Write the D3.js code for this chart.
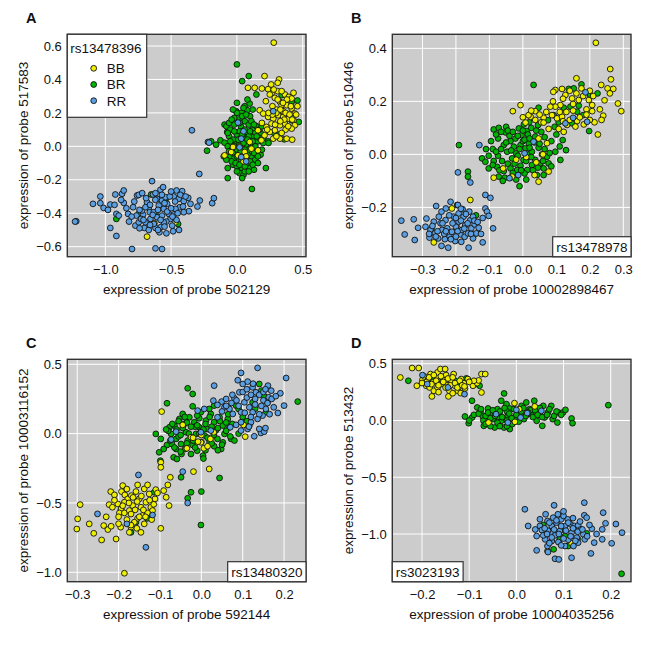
<!DOCTYPE html>
<html>
<head>
<meta charset="utf-8">
<script src="https://cdn.jsdelivr.net/npm/d3@7"></script>
<style>
  body { margin: 0; background: #fff; }
  text { font-family: "Liberation Sans", Arial, sans-serif; fill: #111; }
</style>
</head>
<body>
<div class="viz"></div>
<script>
// ---- panel A : probe 502129 vs 517583, marker rs13478396
const aXTicks = [-1.0, -0.5, 0.0, 0.5]
const aYTicks = [-0.6, -0.4, -0.2, 0.0, 0.2, 0.4, 0.6]
const aBB = [[0.28,0.62],[0.21,0.42],[0.32,0.40],[0.31,0.38],[0.084,0.35],[0.135,0.35],[0.19,0.346],[0.237,0.342],[0.263,0.316],[0.309,0.33],[0.365,0.31],[0.395,0.296],[0.416,0.286],[0.288,0.29],[0.327,0.266],[0.34,0.246],[0.378,0.246],[0.416,0.226],[0.44,0.196],[0.173,0.216],[0.2,0.196],[0.237,0.176],[0.276,0.166],[0.314,0.186],[0.352,0.176],[0.39,0.166],[0.43,0.156],[0.44,0.126],[0.416,0.106],[0.365,0.136],[0.327,0.126],[0.288,0.096],[0.25,0.086],[0.21,0.066],[0.276,0.046],[0.327,0.046],[0.378,0.046],[0.263,0.136],[0.224,0.116],[0.16,0.096],[0.186,0.036],[0.11,-0.014],[0.16,-0.024],[-0.043,-0.034],[-0.03,-0.004],[-0.094,-0.054],[0.008,-0.054],[0.059,-0.034],[0.097,0.026],[0.37,0.10],[0.42,0.04],[0.46,0.24],[0.45,0.19],[0.22,0.27],[0.25,0.31],[0.30,0.22],[0.35,0.21],[0.05,-0.09],[-0.627,-0.46],[-0.467,-0.454],[-0.683,-0.54],
  [0.28,0.34],[0.34,0.33],[0.38,0.28],[0.31,0.28],[0.27,0.24],[0.3,0.2],[0.33,0.22],[0.37,0.2],[0.4,0.19],[0.42,0.16],[0.36,0.16],[0.33,0.15],[0.29,0.13],[0.27,0.19],[0.24,0.2],[0.35,0.26],[0.41,0.24],[0.39,0.12],[0.34,0.08],[0.3,0.06],[0.23,0.1],[0.19,0.14],[0.43,0.32],[0.26,0.37],[0.02,0.0],[0.07,-0.06]]
const aBR = [[0.0,0.49],[0.09,0.42],[0.04,0.39],[0.148,0.31],[0.059,0.24],[0.097,0.256],[-0.005,0.21],[0.038,0.202],[0.079,0.216],[0.34,0.306],[0.416,0.266],[0.46,0.274],[0.47,0.146],[0.416,0.156],[0.35,0.156],[0.32,0.13],[0.283,0.08],[0.32,0.07],[0.36,0.042],[0.237,0.03],[0.18,0.074],[-0.094,0.13],[-0.074,0.086],[-0.158,0.01],[-0.125,0.036],[-0.227,-0.026],[-0.196,0.03],[-0.094,0.022],
  [-0.08,0.12],[-0.05,0.10],[-0.02,0.13],[0.01,0.16],[0.03,0.12],[0.06,0.15],[0.09,0.13],[0.12,0.10],[0.15,0.12],[0.18,0.08],[-0.06,0.06],[-0.03,0.04],[0.0,0.07],[0.02,0.09],[0.05,0.05],[0.08,0.08],[0.10,0.04],[0.13,0.06],[0.16,0.03],[0.20,0.02],[-0.07,0.0],[-0.04,-0.02],[-0.01,0.01],[0.02,0.02],[0.04,-0.01],[0.07,0.01],[0.09,-0.02],[0.12,-0.01],[0.15,-0.03],[0.18,-0.05],[-0.05,-0.06],[-0.02,-0.07],[0.01,-0.04],[0.03,-0.08],[0.06,-0.05],[0.08,-0.09],[0.11,-0.06],[0.14,-0.08],[-0.03,-0.11],[0.0,-0.12],[0.04,-0.13],[0.07,-0.11],[0.10,-0.13],[0.02,-0.16],[0.05,-0.17],[0.13,-0.14],[0.16,-0.10],[0.22,-0.13],[-0.07,-0.13],[-0.10,-0.06],[0.0,0.20],[0.05,0.23],[0.10,0.18],[-0.02,0.17],[0.114,-0.255],[-0.07,-0.19],[0.06,-0.15],[0.09,0.06],[0.03,0.05],[-0.01,-0.02],[0.06,-0.02],[0.11,0.02],[0.14,0.0],
  [-0.06,0.14],[-0.04,0.16],[0.02,0.14],[0.04,0.18],[0.07,0.19],[0.11,0.15],[0.13,0.13],[0.17,0.1],[0.19,0.12],[-0.07,0.08],[-0.02,0.09],[0.04,0.07],[0.06,0.10],[0.1,0.09],[0.14,0.08],[0.17,0.05],[-0.05,0.03],[-0.02,0.0],[0.01,0.04],[0.05,0.02],[0.08,0.04],[0.12,0.03],[0.15,0.06],[-0.06,-0.03],[-0.03,-0.04],[0.0,-0.06],[0.03,-0.03],[0.05,-0.07],[0.08,-0.05],[0.1,-0.09],[0.13,-0.04],[0.16,-0.06],[-0.04,-0.09],[-0.01,-0.1],[0.02,-0.11],[0.06,-0.12],[0.09,-0.15],[0.12,-0.11],[0.0,-0.15],[0.04,-0.19],[-0.08,-0.08],[0.19,-0.02],[0.2,0.05],[0.24,0.02],[0.08,0.28],[0.12,0.22],[0.0,0.26],[-0.03,0.22],
  [-0.652,-0.288],[-0.536,-0.31],[-0.746,-0.404],[-0.916,-0.434],[-0.619,-0.404],[-0.447,-0.464]]
const aRR = [[0.008,0.142],[0.05,0.09],[0.033,0.046],[0.02,-0.006],[0.033,-0.064],[0.07,-0.09],[0.276,0.21],[-0.342,0.096],[-0.22,0.026],[-0.286,-0.165],[-0.212,0.022],
  [-1.221,-0.448],[-1.094,-0.344],[-1.038,-0.30],[-1.038,-0.34],[-1.013,-0.368],[-0.962,-0.348],[-0.924,-0.288],[-0.873,-0.284],[-0.86,-0.264],[-0.86,-0.338],[-0.962,-0.488],[-0.916,-0.536],[-0.916,-0.404],[-0.898,-0.414],[-0.827,-0.404],[-0.789,-0.364],[-0.759,-0.294],[-0.746,-0.29],[-0.764,-0.414],[-0.772,-0.474],[-0.746,-0.454],[-0.713,-0.408],[-0.703,-0.488],[-0.683,-0.334],[-0.67,-0.368],[-0.662,-0.394],[-0.645,-0.208],[-0.637,-0.288],[-0.619,-0.28],[-0.607,-0.314],[-0.594,-0.354],[-0.581,-0.26],[-0.561,-0.244],[-0.569,-0.324],[-0.556,-0.374],[-0.543,-0.304],[-0.53,-0.344],[-0.518,-0.404],[-0.505,-0.434],[-0.536,-0.45],[-0.581,-0.484],[-0.619,-0.488],[-0.67,-0.50],[-0.589,-0.514],[-0.536,-0.52],[-0.485,-0.508],[-0.459,-0.264],[-0.416,-0.268],[-0.48,-0.30],[-0.442,-0.314],[-0.404,-0.328],[-0.37,-0.308],[-0.353,-0.344],[-0.365,-0.388],[-0.404,-0.394],[-0.434,-0.364],[-0.467,-0.374],[-0.48,-0.408],[-0.459,-0.44],[-0.492,-0.474],[-0.282,-0.324],[-0.188,-0.34],[-0.175,-0.31],[-0.797,-0.614],[-0.619,-0.61],[-0.569,-0.614],[-0.721,-0.384],[-0.695,-0.364],[-0.657,-0.434],[-0.632,-0.394],[-0.607,-0.424],[-0.569,-0.414],[-0.556,-0.454],[-0.632,-0.464],[-0.695,-0.454],[-0.729,-0.434],[-1.23,-0.45],
  [-0.98,-0.38],[-0.88,-0.32],[-0.84,-0.37],[-0.8,-0.42],[-0.78,-0.33],[-0.74,-0.38],[-0.71,-0.44],[-0.69,-0.31],[-0.66,-0.35],[-0.64,-0.41],[-0.62,-0.32],[-0.6,-0.38],[-0.58,-0.44],[-0.57,-0.29],[-0.55,-0.34],[-0.53,-0.39],[-0.51,-0.3],[-0.5,-0.37],[-0.49,-0.42],[-0.47,-0.33],[-0.45,-0.4],[-0.43,-0.29],[-0.41,-0.36],[-0.39,-0.3],[-0.66,-0.47],[-0.6,-0.5],[-0.55,-0.48],[-0.74,-0.49],[-0.82,-0.45],[-0.93,-0.35],[-0.3,-0.36],[-0.72,-0.28],[-0.5,-0.27],[-0.44,-0.5]]

// ---- panel B : probe 10002898467 vs 510446, marker rs13478978
const bXTicks = [-0.3, -0.2, -0.1, 0.0, 0.1, 0.2, 0.3]
const bYTicks = [-0.2, 0.0, 0.2, 0.4]
const bBB = [[0.218,0.421],[0.261,0.322],[0.263,0.283],[0.234,0.262],[0.253,0.249],[0.27,0.247],[0.16,0.287],[0.175,0.249],[0.117,0.247],[0.097,0.243],[0.091,0.236],[0.127,0.224],[0.147,0.211],[0.167,0.205],[0.197,0.205],[0.207,0.186],[0.244,0.204],[0.284,0.192],[0.294,0.163],[0.24,0.146],[0.235,0.13],[0.214,0.121],[0.224,0.075],[0.112,0.186],[0.097,0.18],[0.082,0.18],[0.087,0.148],[0.102,0.136],[0.117,0.142],[0.132,0.111],[0.157,0.105],[0.162,0.126],[0.182,0.113],[0.122,0.085],[0.107,0.096],[0.062,0.138],[0.055,0.121],[0.037,0.13],[0.023,0.142],[0.008,0.12],[-0.007,0.186],[-0.03,0.163],[0.062,0.12],[0.077,0.096],[0.047,0.06],[0.072,0.042],[-0.059,-0.053],[-0.087,-0.088],[-0.032,-0.084],[0.035,-0.078],[0.047,-0.103],[0.077,-0.065],[-0.157,-0.172],[-0.212,-0.204],[-0.196,-0.277],[-0.266,-0.332],[-0.144,-0.302],[0.037,0.163],[0.017,0.148],[0.207,0.163],[0.15,0.19],[0.19,0.17],[0.13,0.16],[-0.02,-0.02],[0.04,-0.03],
  [0.14,0.24],[0.18,0.22],[0.16,0.23],[0.21,0.22],[0.19,0.15],[0.17,0.14],[0.14,0.13],[0.12,0.125],[0.11,0.16],[0.09,0.2],[0.07,0.16],[0.05,0.15],[0.025,0.165],[0.0,0.14],[0.2,0.13],[0.23,0.17],[0.26,0.23],[0.15,0.165],[0.2,0.24],[0.12,0.21],[0.01,-0.01],[0.06,0.0]]
const bBR = [[-0.191,0.035],[-0.164,-0.065],[-0.164,-0.084],[-0.196,-0.191],[-0.273,-0.282],[-0.14,-0.23],
  [-0.087,0.094],[-0.072,0.10],[-0.05,0.104],[-0.052,0.083],[-0.074,0.06],[-0.102,-0.005],[-0.122,-0.015],[-0.112,-0.028],[-0.102,-0.053],[-0.077,-0.047],[-0.062,-0.025],[-0.057,-0.063],[-0.054,-0.088],[-0.037,-0.053],[-0.032,-0.015],[-0.047,0.01],[-0.057,0.035],[-0.027,0.029],[-0.022,0.06],[-0.004,0.073],[0.012,0.088],[-0.012,0.098],[0.003,0.113],[0.019,0.121],[-0.007,0.035],[0.008,0.023],[0.018,0.0],[0.002,-0.021],[-0.007,-0.043],[-0.017,-0.059],[0.013,-0.059],[0.027,-0.04],[0.037,-0.021],[0.027,0.01],[0.047,0.025],[0.057,0.0],[0.052,-0.034],[0.062,-0.053],[0.072,-0.009],[0.077,-0.034],[0.062,-0.078],[0.042,-0.078],[-0.01,-0.12],[0.097,0.01],[0.112,-0.021],[0.129,0.016],[0.047,0.176],[0.032,0.262],[0.075,0.129],[0.095,0.104],[-0.074,-0.005],[-0.087,-0.025],[-0.037,0.05],[-0.02,0.004],[-0.037,-0.088],[-0.072,-0.084],[0.005,-0.072],[0.037,0.067],[0.055,0.085],[0.018,0.042],[-0.09,0.02],[-0.04,0.07],[0.0,0.05],[-0.015,-0.005],[0.03,-0.06],
  [-0.095,0.05],[-0.08,0.075],[-0.065,0.085],[-0.045,0.09],[-0.03,0.085],[-0.015,0.07],[0.0,0.09],[0.015,0.075],[0.025,0.1],[0.04,0.09],[-0.09,-0.04],[-0.08,0.01],[-0.065,0.02],[-0.05,0.045],[-0.035,0.015],[-0.025,-0.035],[-0.01,0.02],[0.005,0.055],[0.02,0.025],[0.035,0.045],[0.05,0.04],[0.065,0.02],[0.08,0.005],[-0.07,-0.06],[-0.045,-0.035],[-0.03,-0.07],[-0.005,-0.06],[0.01,-0.025],[0.025,-0.01],[0.045,-0.05],[0.06,-0.025],[0.085,-0.045],[-0.02,-0.095],[0.01,-0.095],[0.045,0.11],[0.065,0.065],[0.085,0.05],[0.1,0.075],[0.11,0.03],[-0.11,0.02],[-0.06,-0.1],[0.02,0.06],
  [0.137,0.247],[0.152,0.249],[0.175,0.264],[0.201,0.224],[0.122,0.176],[0.142,0.18],[0.162,0.161],[0.18,0.148],[0.147,0.117],[0.119,0.054],[0.198,0.088],[0.223,0.23],[0.167,0.184],[0.092,0.148],[0.107,0.121]]
const bRR = [[-0.363,-0.25],[-0.353,-0.302],[-0.326,-0.245],[-0.323,-0.323],[-0.313,-0.277],[-0.288,-0.242],[-0.291,-0.273],[-0.279,-0.314],[-0.259,-0.195],[-0.251,-0.235],[-0.243,-0.216],[-0.246,-0.26],[-0.241,-0.285],[-0.243,-0.345],[-0.223,-0.352],[-0.216,-0.179],[-0.23,-0.204],[-0.231,-0.248],[-0.226,-0.279],[-0.219,-0.311],[-0.207,-0.235],[-0.202,-0.327],[-0.194,-0.191],[-0.192,-0.223],[-0.192,-0.254],[-0.186,-0.302],[-0.18,-0.207],[-0.177,-0.235],[-0.172,-0.267],[-0.174,-0.311],[-0.162,-0.352],[-0.16,-0.216],[-0.157,-0.248],[-0.154,-0.279],[-0.149,-0.235],[-0.144,-0.264],[-0.139,-0.298],[-0.132,-0.277],[-0.12,-0.332],[-0.112,-0.204],[-0.107,-0.216],[-0.102,-0.232],[-0.089,-0.279],[-0.112,-0.153],[-0.097,-0.164],[-0.194,-0.068],[-0.157,-0.106],[-0.13,0.035],[-0.266,-0.254],[-0.276,-0.285],[-0.263,-0.298],[-0.212,-0.292],[-0.20,-0.273],[-0.182,-0.285],[-0.164,-0.298],[-0.149,-0.317],[-0.184,-0.33],[-0.233,-0.32],[-0.253,-0.317],
  [-0.27,-0.27],[-0.255,-0.29],[-0.24,-0.26],[-0.235,-0.3],[-0.22,-0.23],[-0.21,-0.26],[-0.2,-0.24],[-0.195,-0.29],[-0.185,-0.25],[-0.175,-0.28],[-0.17,-0.225],[-0.165,-0.26],[-0.155,-0.3],[-0.145,-0.25],[-0.135,-0.255],[-0.125,-0.3],[-0.215,-0.32],[-0.2,-0.31],[-0.23,-0.29],[-0.26,-0.31],[-0.185,-0.205],[-0.12,-0.24],[-0.28,-0.3],
  [0.032,0.048],[0.005,0.004],[-0.014,-0.078],[0.187,0.234],[0.192,0.123],[0.15,0.138],[0.127,0.117],[-0.04,-0.09]]

// ---- panel C : probe 592144 vs 10003116152, marker rs13480320
const cXTicks = [-0.3, -0.2, -0.1, 0.0, 0.1, 0.2]
const cYTicks = [-1.0, -0.5, 0.0, 0.5]
const cBB = [[-0.293,-0.512],[-0.299,-0.615],[-0.301,-0.688],[-0.271,-0.651],[-0.26,-0.719],[-0.241,-0.767],[-0.236,-0.663],[-0.226,-0.692],[-0.218,-0.668],[-0.206,-0.76],[-0.195,-0.675],[-0.223,-0.512],[-0.215,-0.531],[-0.219,-0.418],[-0.21,-0.442],[-0.19,-0.375],[-0.193,-0.418],[-0.185,-0.442],[-0.178,-0.471],[-0.186,-0.495],[-0.202,-0.507],[-0.194,-0.543],[-0.198,-0.572],[-0.186,-0.572],[-0.174,-0.555],[-0.166,-0.519],[-0.169,-0.447],[-0.158,-0.418],[-0.154,-0.37],[-0.15,-0.471],[-0.146,-0.531],[-0.142,-0.591],[-0.154,-0.611],[-0.162,-0.639],[-0.17,-0.675],[-0.156,-0.683],[-0.138,-0.399],[-0.13,-0.37],[-0.126,-0.435],[-0.134,-0.495],[-0.122,-0.531],[-0.118,-0.555],[-0.13,-0.572],[-0.112,-0.471],[-0.11,-0.404],[-0.106,-0.428],[-0.138,-0.651],[-0.146,-0.712],[-0.186,-1.007],[-0.174,-0.712],[-0.098,-0.683],[-0.096,0.159],[-0.091,-0.411],[-0.085,-0.459],[-0.081,-0.37],[-0.075,-0.315],[-0.078,-0.519],[-0.098,-0.207],[-0.098,-0.243],[-0.019,-0.274],[0.019,-0.255],[0.106,-0.022],[0.102,0.063],[-0.001,-0.063],[0.006,-0.106],[0.022,-0.038],[-0.035,-0.106],[-0.025,-0.026],[-0.045,0.063],[-0.008,-0.058],[0.015,-0.091],
  [-0.21,-0.48],[-0.2,-0.6],[-0.19,-0.52],[-0.18,-0.62],[-0.175,-0.5],[-0.17,-0.58],[-0.165,-0.46],[-0.16,-0.55],[-0.155,-0.49],[-0.15,-0.6],[-0.145,-0.45],[-0.14,-0.55],[-0.135,-0.6],[-0.125,-0.48],[-0.12,-0.62],[-0.18,-0.4],[-0.2,-0.65],[-0.23,-0.6],[-0.17,-0.66],[-0.115,-0.51],[0.0,-0.01],[-0.02,-0.03],[0.03,0.01]]
const cBR = [[-0.194,-0.548],[-0.158,-0.639],[-0.17,-0.712],[-0.131,-0.611],[-0.114,-0.423],[-0.025,-0.423],[0.0,-0.418],[-0.033,-0.466],[-0.001,-0.659],[0.044,-0.32],[-0.049,-0.315],
  [-0.033,0.327],[-0.021,0.286],[-0.083,0.219],[-0.021,0.197],[-0.11,-0.002],[-0.098,-0.038],[-0.102,-0.135],[-0.099,-0.195],[-0.067,-0.171],[-0.059,-0.183],[-0.048,-0.147],[-0.077,0.046],[-0.065,0.058],[-0.053,0.106],[-0.073,-0.002],[-0.061,-0.038],[-0.049,-0.075],[-0.061,-0.111],[-0.039,-0.111],[-0.033,-0.05],[-0.037,0.01],[-0.041,0.07],[-0.029,0.118],[-0.017,0.082],[-0.005,0.046],[-0.013,-0.002],[-0.021,-0.082],[-0.025,-0.147],[-0.01,-0.123],[0.004,-0.159],[0.008,-0.014],[0.015,0.034],[0.011,0.094],[0.023,0.142],[0.031,0.082],[0.035,0.022],[0.039,-0.038],[0.031,-0.091],[0.048,-0.111],[0.052,-0.063],[0.056,-0.002],[0.052,0.058],[0.044,0.118],[0.064,0.106],[0.068,0.046],[0.072,-0.038],[0.08,-0.05],[0.019,0.178],[0.031,0.202],[0.084,0.202],[0.14,0.358],[0.145,0.31],[0.152,0.269],[0.159,0.226],[0.156,0.154],[0.233,0.231],[0.09,0.178],[0.116,0.058],[0.124,0.226],[-0.083,-0.082],[-0.091,-0.111],[-0.071,-0.075],[-0.045,0.142],[-0.001,0.154],[-0.005,0.111],[-0.08,0.02],[-0.055,-0.02],[0.0,0.02],[0.02,-0.06],[-0.015,0.05],
  [-0.085,0.03],[-0.07,0.07],[-0.06,0.03],[-0.05,-0.01],[-0.055,0.09],[-0.045,0.04],[-0.03,0.0],[-0.035,0.08],[-0.025,0.05],[-0.02,-0.05],[-0.01,0.06],[-0.005,0.0],[0.005,0.03],[0.01,0.07],[0.015,-0.03],[0.02,0.12],[0.025,0.05],[0.03,-0.01],[0.04,0.04],[0.045,0.09],[0.05,-0.08],[0.06,0.02],[0.06,0.08],[0.07,-0.02],[0.075,0.07],[-0.075,-0.05],[-0.065,-0.1],[-0.05,-0.13],[-0.035,-0.07],[-0.015,-0.1],[0.0,-0.06],[0.01,-0.12],[0.025,-0.07],[0.04,-0.12],[-0.04,0.12],[-0.01,0.13],[0.065,0.14],[0.1,0.12],[0.11,0.09],[0.13,0.18],[0.09,0.0],[0.005,-0.18]]
const cRR = [[-0.251,-0.579],[-0.152,-0.298],[-0.134,-0.82],[-0.18,-0.651],[-0.118,-0.587],[-0.033,-0.50],[-0.045,-0.274],
  [0.136,0.474],[0.096,0.438],[0.205,0.401],[0.088,0.385],[0.10,0.358],[0.112,0.375],[0.124,0.334],[0.132,0.298],[0.161,0.346],[0.169,0.31],[0.191,0.291],[0.20,0.202],[0.185,0.149],[0.163,0.262],[0.156,0.178],[0.148,0.13],[0.136,0.106],[0.124,0.154],[0.116,0.19],[0.104,0.226],[0.092,0.298],[0.08,0.255],[0.073,0.221],[0.068,0.178],[0.056,0.19],[0.049,0.231],[0.06,0.25],[0.031,0.346],[0.029,0.238],[0.039,0.207],[0.007,0.178],[-0.009,0.166],[0.076,0.142],[0.084,0.063],[0.096,0.022],[0.112,0.034],[0.128,-0.019],[0.144,0.005],[0.152,0.014],[0.14,0.034],[0.12,0.082],[0.096,0.082],[-0.001,0.01],[-0.061,0.014],[-0.073,-0.043],[0.023,0.022],[0.039,0.118],[0.07,0.046],[0.096,0.154],[0.11,0.26],[0.15,0.24],
  [0.1,0.3],[0.11,0.32],[0.12,0.28],[0.13,0.25],[0.14,0.28],[0.145,0.2],[0.15,0.3],[0.16,0.22],[0.17,0.25],[0.175,0.19],[0.18,0.27],[0.165,0.14],[0.13,0.21],[0.12,0.12],[0.105,0.15],[0.09,0.2],[0.085,0.24],[0.075,0.28],[0.06,0.2],[0.05,0.16],[0.14,0.14],[0.155,0.32],[0.125,0.36],[0.115,0.05],[0.155,0.04]]

// ---- panel D : probe 10004035256 vs 513432, marker rs3023193
const dXTicks = [-0.2, -0.1, 0.0, 0.1, 0.2]
const dYTicks = [-1.0, -0.5, 0.0, 0.5]
const dBB = [[-0.246,0.379],[-0.221,0.462],[-0.207,0.462],[-0.211,0.306],[-0.199,0.359],[-0.195,0.388],[-0.191,0.306],[-0.187,0.365],[-0.182,0.409],[-0.177,0.335],[-0.175,0.262],[-0.179,0.212],[-0.17,0.388],[-0.167,0.424],[-0.161,0.453],[-0.151,0.453],[-0.156,0.379],[-0.149,0.40],[-0.16,0.321],[-0.167,0.291],[-0.147,0.312],[-0.142,0.262],[-0.144,0.212],[-0.138,0.35],[-0.133,0.409],[-0.13,0.306],[-0.124,0.262],[-0.117,0.365],[-0.111,0.329],[-0.109,0.282],[-0.118,0.241],[-0.103,0.365],[-0.092,0.306],[-0.083,0.329],[-0.08,0.353],[-0.074,0.409],[-0.066,0.409],[-0.074,0.247],[-0.184,0.291],[-0.004,0.153],[0.039,0.124],[0.006,0.10],[-0.003,-0.012],[-0.059,-0.018],[0.066,-1.15],[0.117,-1.082],
  [-0.19,0.34],[-0.185,0.38],[-0.18,0.32],[-0.175,0.4],[-0.17,0.35],[-0.165,0.31],[-0.16,0.39],[-0.155,0.34],[-0.15,0.29],[-0.145,0.37],[-0.14,0.31],[-0.135,0.38],[-0.13,0.33],[-0.125,0.29],[-0.12,0.35],[-0.115,0.31],[-0.11,0.3],[-0.2,0.33],[-0.165,0.25],[-0.135,0.24],[-0.09,0.35],[-0.1,0.34]]
const dBR = [[-0.229,0.35],[-0.174,0.359],[-0.161,0.35],[-0.142,0.321],[-0.106,0.371],[-0.085,0.329],[-0.078,0.306],[-0.094,0.174],[-0.16,0.36],[-0.13,0.35],[-0.12,0.32],
  [-0.026,0.238],[-0.032,0.174],[-0.109,0.035],[-0.101,-0.024],[-0.094,0.026],[-0.083,0.115],[-0.076,0.076],[-0.071,0.035],[-0.069,-0.047],[-0.06,0.106],[-0.055,0.056],[-0.05,0.012],[-0.046,-0.062],[-0.04,0.10],[-0.036,0.056],[-0.032,-0.003],[-0.026,-0.062],[-0.021,0.144],[-0.014,0.106],[-0.018,0.041],[-0.014,-0.076],[-0.009,-0.032],[-0.003,0.026],[0.004,0.071],[0.011,0.129],[0.016,0.012],[0.021,0.159],[0.028,0.10],[0.032,0.056],[0.038,0.174],[0.043,-0.003],[0.05,0.071],[0.057,0.129],[0.06,0.026],[0.067,0.071],[0.074,0.129],[0.077,0.012],[0.087,-0.018],[0.089,0.071],[0.099,0.071],[0.104,0.094],[0.117,0.018],[0.119,-0.024],[0.055,-0.047],[0.195,0.135],[-0.062,0.012],[-0.09,0.05],[-0.07,0.0],[-0.04,0.03],[0.01,0.04],[0.03,0.09],[-0.02,0.08],
  [-0.08,0.06],[-0.075,0.1],[-0.065,0.04],[-0.06,0.07],[-0.055,0.02],[-0.05,0.09],[-0.045,0.04],[-0.04,-0.02],[-0.035,0.08],[-0.03,0.03],[-0.025,0.11],[-0.02,0.0],[-0.015,0.06],[-0.01,0.02],[-0.005,0.1],[0.0,0.05],[0.005,-0.01],[0.01,0.08],[0.015,0.11],[0.02,0.04],[0.025,0.07],[0.035,0.03],[0.04,0.09],[0.045,0.05],[0.05,0.11],[0.055,0.03],[0.065,0.05],[0.07,0.1],[0.08,0.04],[0.085,0.08],[0.095,0.05],[-0.065,-0.03],[-0.055,-0.05],[-0.035,-0.05],[-0.02,-0.05],[-0.1,0.0],
  [0.223,-1.35],[0.149,-0.994],[0.121,-0.953],[0.103,-1.018],[0.079,-1.135],[0.057,-0.921],[0.11,-1.106],[0.092,-1.047],[0.1,-0.96],[0.13,-1.04]]
const dRR = [[-0.199,0.40],[-0.189,0.321],[-0.11,0.232],[-0.145,0.291],[0.0,0.094],[0.023,0.065],[-0.018,-0.018],[-0.043,0.056],[0.053,0.085],[0.009,0.026],
  [0.018,-0.782],[0.08,-0.747],[0.144,-0.724],[0.025,-0.929],[0.043,-1.018],[0.043,-1.144],[0.05,-0.929],[0.062,-0.826],[0.066,-0.885],[0.054,-0.965],[0.061,-1.047],[0.066,-1.106],[0.073,-0.988],[0.075,-0.929],[0.078,-0.856],[0.085,-0.90],[0.088,-0.826],[0.092,-0.974],[0.095,-0.871],[0.10,-0.841],[0.103,-0.929],[0.109,-0.871],[0.115,-0.915],[0.117,-0.988],[0.123,-0.929],[0.128,-1.032],[0.131,-0.924],[0.137,-0.959],[0.142,-1.003],[0.144,-0.835],[0.149,-0.856],[0.16,-0.953],[0.165,-1.076],[0.158,-1.171],[0.182,-0.959],[0.182,-1.047],[0.184,-0.812],[0.189,-0.906],[0.202,-1.082],[0.211,-0.912],[0.224,-0.988],[0.082,-1.218],[0.09,-1.224],[0.117,-1.209],[0.121,-1.106],[0.103,-1.106],[0.089,-1.071],[0.075,-1.062],[0.067,-1.159],[0.082,-1.012],[0.11,-1.05],[0.131,-1.076],[0.145,-1.047],[0.057,-1.012],[0.067,-0.971],
  [0.06,-0.95],[0.065,-1.0],[0.07,-0.9],[0.075,-1.03],[0.08,-0.96],[0.085,-0.88],[0.09,-1.0],[0.095,-0.93],[0.1,-1.04],[0.105,-0.97],[0.11,-0.9],[0.115,-1.02],[0.12,-0.95],[0.125,-1.06],[0.13,-0.98],[0.135,-0.89],[0.14,-0.96],[0.15,-1.02],[0.155,-0.92],[0.07,-1.08],[0.095,-1.1],[0.12,-0.86],[0.1,-0.8],[0.05,-0.87],[0.04,-0.96],[0.17,-1.0]]

const genotypes = ["BB", "BR", "RR"]
const genoColor = { BB: "#eeee00", BR: "#00b300", RR: "#5a9fe2" }

const panels = [
  { letter: "A", col: 0, left: 67.3, top: 34.3, xDom: [-1.289, 0.525], yDom: [-0.66, 0.67], xTicks: aXTicks, yTicks: aYTicks,
    xTitle: "expression of probe 502129", yTitle: "expression of probe 517583", marker: "rs13478396", where: "legend",
    pts: { BB: aBB, BR: aBR, RR: aRR } },
  { letter: "B", col: 325, left: 392.3, top: 34.3, xDom: [-0.39, 0.323], yDom: [-0.386, 0.453], xTicks: bXTicks, yTicks: bYTicks,
    xTitle: "expression of probe 10002898467", yTitle: "expression of probe 510446", marker: "rs13478978", where: "right",
    pts: { BB: bBB, BR: bBR, RR: bRR } },
  { letter: "C", col: 0, left: 67.3, top: 359.3, xDom: [-0.324, 0.253], yDom: [-1.068, 0.536], xTicks: cXTicks, yTicks: cYTicks,
    xTitle: "expression of probe 592144", yTitle: "expression of probe 10003116152", marker: "rs13480320", where: "right",
    pts: { BB: cBB, BR: cBR, RR: cRR } },
  { letter: "D", col: 325, left: 392.3, top: 359.3, xDom: [-0.263, 0.243], yDom: [-1.42, 0.539], xTicks: dXTicks, yTicks: dYTicks,
    xTitle: "expression of probe 10004035256", yTitle: "expression of probe 513432", marker: "rs3023193", where: "left",
    pts: { BB: dBB, BR: dBR, RR: dRR } }
]

const W = 650, H = 650
const pw = 238.7, ph = 222.4
const fmt = d3.format(".1f")

const svg = d3.select(".viz").append("svg")
  .attr("width", W)
  .attr("height", H)

panels.forEach(p => {
  const x = d3.scaleLinear().domain(p.xDom).range([0, pw])
  const y = d3.scaleLinear().domain(p.yDom).range([ph, 0])

  const g = svg.append("g").attr("transform", `translate(${p.left},${p.top})`)

  g.append("rect").attr("width", pw).attr("height", ph).attr("fill", "#cccccc")

  // grid at the tick values
  g.selectAll(".gx").data(p.xTicks).enter().append("line")
    .attr("x1", d => x(d)).attr("x2", d => x(d)).attr("y1", 0).attr("y2", ph)
    .attr("stroke", "#fff").attr("stroke-width", 1)
  g.selectAll(".gy").data(p.yTicks).enter().append("line")
    .attr("y1", d => y(d)).attr("y2", d => y(d)).attr("x1", 0).attr("x2", pw)
    .attr("stroke", "#fff").attr("stroke-width", 1)

  const clip = "clip" + p.letter
  g.append("clipPath").attr("id", clip).append("rect").attr("width", pw).attr("height", ph)

  const order = ["BR", "BB", "RR"]
  const all = []
  order.forEach(k => p.pts[k].forEach(d => all.push({ g: k, x: d[0], y: d[1] })))

  g.append("g").attr("clip-path", `url(#${clip})`)
    .selectAll("circle").data(all).enter().append("circle")
    .attr("cx", d => x(d.x))
    .attr("cy", d => y(d.y))
    .attr("r", 2.9)
    .attr("fill", d => genoColor[d.g])
    .attr("stroke", "#111")
    .attr("stroke-width", 0.9)

  // axes, no tick marks
  const xa = g.append("g").attr("transform", `translate(0,${ph})`)
    .call(d3.axisBottom(x).tickValues(p.xTicks).tickFormat(fmt).tickSize(0).tickPadding(8))
  const ya = g.append("g")
    .call(d3.axisLeft(y).tickValues(p.yTicks).tickFormat(fmt).tickSize(0).tickPadding(5.5))
  ;[xa, ya].forEach(a => {
    a.select(".domain").remove()
    a.selectAll("text").attr("font-size", 13).attr("fill", "#111")
      .style("font-family", '"Liberation Sans", Arial, sans-serif')
  })

  g.append("rect").attr("width", pw).attr("height", ph)
    .attr("fill", "none").attr("stroke", "#333").attr("stroke-width", 1.4)

  g.append("text").attr("x", pw / 2).attr("y", ph + 37.5)
    .attr("text-anchor", "middle").attr("font-size", 13.5).text(p.xTitle)
  g.append("text").attr("transform", `translate(${p.col + 28 - p.left},${ph / 2}) rotate(-90)`)
    .attr("text-anchor", "middle").attr("font-size", 13.5).text(p.yTitle)

  g.append("text").attr("x", p.col + 26 - p.left).attr("y", -11)
    .attr("font-size", 14.5).attr("font-weight", "bold").text(p.letter)

  if (p.where === "legend") {
    const lg = g.append("g")
    lg.append("rect").attr("x", 0).attr("y", 0).attr("width", 79.4).attr("height", 83)
      .attr("fill", "#fff").attr("stroke", "#333").attr("stroke-width", 1.2)
    lg.append("text").attr("x", 3).attr("y", 18.7).attr("font-size", 13.5).text(p.marker)
    genotypes.forEach((k, i) => {
      const cy = 34 + i * 16.2
      lg.append("circle").attr("cx", 26.4).attr("cy", cy).attr("r", 2.9)
        .attr("fill", genoColor[k]).attr("stroke", "#111").attr("stroke-width", 0.9)
      lg.append("text").attr("x", 39.5).attr("y", cy + 5).attr("font-size", 13.5).text(k)
    })
  } else {
    const lg = g.append("g")
    const t = lg.append("text").attr("font-size", 13.5).text(p.marker)
    const tw = t.node().getComputedTextLength()
    const bw = tw + 7, bh = 20
    const bx = p.where === "right" ? pw - bw : 0
    lg.insert("rect", "text").attr("x", bx).attr("y", ph - bh).attr("width", bw).attr("height", bh)
      .attr("fill", "#fff").attr("stroke", "#333").attr("stroke-width", 1.2)
    t.attr("x", bx + 3.5).attr("y", ph - 4.5)
  }
})
</script>
</body>
</html>
